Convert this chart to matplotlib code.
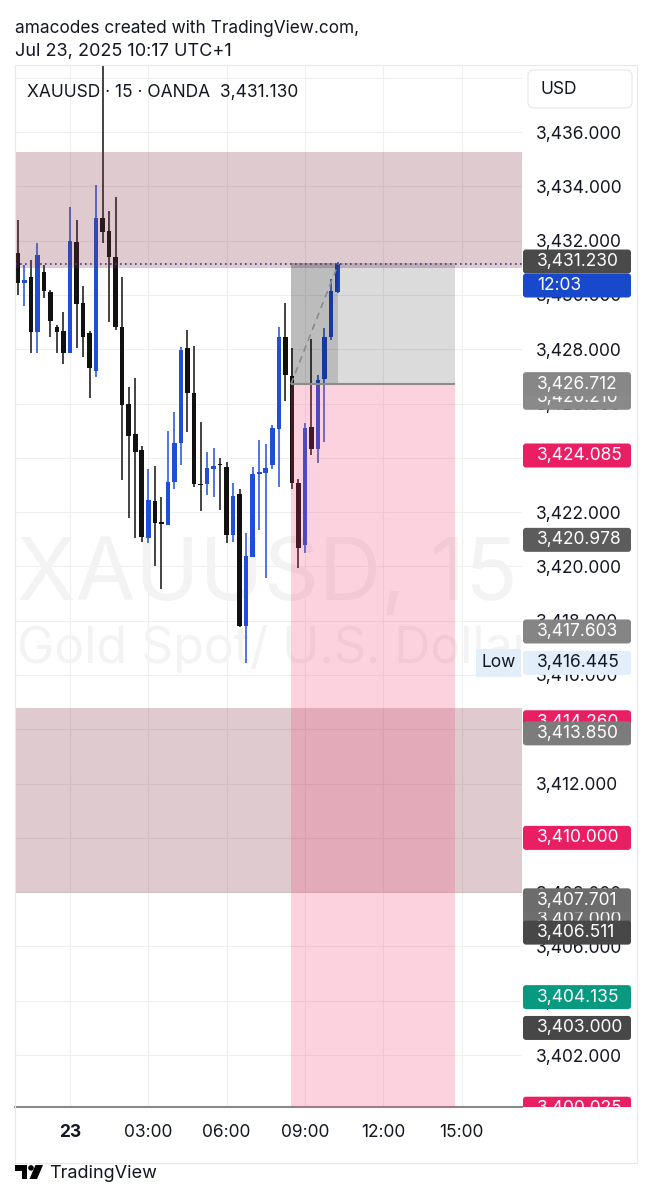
import numpy as np
import matplotlib.pyplot as plt
from matplotlib.patches import Rectangle, FancyBboxPatch, Polygon, Circle

plt.rcParams['font.family'] = ['Inter', 'DejaVu Sans']

W, H = 653, 1200
INK = '#131722'

# 15 minute bars, bar 0 = 00:00 on the 23rd
bar_idx = np.arange(-8, 42)
opens = [3431.54, 3430.45, 3430.66, 3428.63, 3430.84, 3430.10, 3428.80, 3428.67, 3427.86, 3431.95,
         3429.70, 3428.60, 3427.20, 3432.83, 3432.35, 3431.40, 3428.82, 3425.98, 3424.88, 3424.29,
         3421.05, 3422.41, 3421.62, 3421.53, 3423.11, 3424.55, 3428.04, 3426.39, 3423.02, 3423.04,
         3423.60, 3423.76, 3423.66, 3421.16, 3422.67, 3417.80, 3420.35, 3423.42, 3423.44, 3423.74,
         3425.06, 3428.45, 3427.01, 3423.07, 3420.79, 3425.13, 3424.32, 3426.90, 3428.45, 3430.10]
highs = [3432.76, 3431.10, 3431.29, 3431.90, 3431.10, 3430.18, 3428.90, 3429.37, 3433.24, 3432.76,
         3430.33, 3428.67, 3434.05, 3438.90, 3433.09, 3433.60, 3430.66, 3426.60, 3426.94, 3424.43,
         3423.59, 3423.70, 3422.56, 3424.99, 3425.69, 3428.08, 3428.71, 3428.12, 3425.32, 3424.21,
         3424.36, 3423.99, 3423.85, 3423.07, 3422.85, 3421.23, 3423.66, 3424.66, 3424.51, 3425.21,
         3428.82, 3429.70, 3428.04, 3423.22, 3425.28, 3428.38, 3427.05, 3428.78, 3430.59, 3431.21]
lows = [3430.00, 3429.60, 3427.86, 3427.86, 3429.90, 3428.45, 3427.86, 3427.45, 3427.86, 3428.04,
        3427.71, 3426.20, 3426.98, 3431.90, 3429.00, 3428.70, 3423.18, 3421.80, 3421.05, 3420.90,
        3420.86, 3420.00, 3419.17, 3421.53, 3422.85, 3423.74, 3424.95, 3422.92, 3422.04, 3422.63,
        3422.56, 3422.08, 3420.86, 3420.90, 3417.77, 3416.445, 3420.35, 3421.34, 3419.57, 3423.59,
        3422.92, 3426.10, 3422.85, 3419.94, 3420.49, 3424.10, 3423.81, 3424.58, 3428.34, 3430.07]
closes = [3430.44, 3430.55, 3428.63, 3431.47, 3430.14, 3429.04, 3428.63, 3427.86, 3431.99, 3429.67,
          3428.45, 3427.31, 3432.83, 3432.32, 3431.40, 3428.82, 3425.94, 3424.80, 3424.20, 3421.08,
          3422.45, 3421.60, 3421.58, 3423.11, 3424.55, 3427.97, 3426.39, 3423.04, 3422.98, 3423.62,
          3423.68, 3423.72, 3421.16, 3422.59, 3417.80, 3420.38, 3423.40, 3423.46, 3423.62, 3425.10,
          3428.45, 3427.05, 3423.07, 3420.68, 3425.10, 3424.32, 3426.87, 3428.45, 3430.14, 3431.13]

time_ticks = [0, 12, 24, 36, 48, 60]
time_labels = ['23', '03:00', '06:00', '09:00', '12:00', '15:00']
price_ticks = np.arange(3402, 3439, 2)

supply_zone = (3430.99, 3435.26)
demand_zone = (3407.97, 3414.78)
entry_price = 3426.712
stop_price = 3431.17
target_price = 3400.025
pos_start, pos_now, pos_end = 33.85, 41.1, 59.0
last_price = 3431.13

# price scale labels, in drawing order
tag_values = [3431.23, 3426.21, 3426.712, 3424.085, 3420.978, 3417.603, 3416.445,
              3414.26, 3413.85, 3410.0, 3407.0, 3407.701, 3406.511, 3404.135, 3403.0, 3400.025]
tag_colors = ['#4a4a4a', '#8a8a8a', '#878787', '#e91e63', '#5c5c5c', '#858585', '#e3eefb',
              '#e91e63', '#7c7c7c', '#e91e63', '#6e6e6e', '#6c6c6c', '#474747', '#089981',
              '#474747', '#e91e63']
tag_text_colors = ['white'] * 6 + [INK] + ['white'] * 9

fig = plt.figure(figsize=(W / 100, H / 100), dpi=100)
fig.patch.set_facecolor('white')

ylo, yhi = 3400.088, 3438.468
ax = fig.add_axes([15 / W, 1 - 1107 / H, 507 / W, 1042 / H])
ax.patch.set_visible(False)
ax.set_xlim(-8.43, 69.27)
ax.set_ylim(ylo, yhi)

# candles
o, h, l, c = map(np.array, (opens, highs, lows, closes))
cols = np.where(c >= o, '#1f4fd6', '#111111')
ax.vlines(bar_idx, l, h, colors=cols, lw=1.1, zorder=3)
ax.bar(bar_idx, np.maximum(np.abs(c - o), 0.05), bottom=np.minimum(o, c), width=0.7,
       color=cols, zorder=3.5)

# zones and position tool
maroon = (128 / 255, 50 / 255, 65 / 255)
ax.axhspan(*supply_zone, color=maroon, alpha=0.25, lw=0, zorder=4)
ax.axhspan(*demand_zone, color=maroon, alpha=0.25, lw=0, zorder=4)
ax.add_patch(Rectangle((pos_start, target_price), pos_end - pos_start, entry_price - target_price,
                       fc=(242 / 255, 54 / 255, 110 / 255), alpha=0.22, lw=0, zorder=4.2))
ax.add_patch(Rectangle((pos_start, entry_price), pos_end - pos_start, stop_price - entry_price,
                       fc='black', alpha=0.14, lw=0, zorder=4.2))
ax.add_patch(Rectangle((pos_start, entry_price), pos_now - pos_start, stop_price - entry_price,
                       fc='black', alpha=0.14, lw=0, zorder=4.3))
ax.hlines(entry_price, pos_start, pos_end, color='#8c8c8c', lw=1.5, zorder=4.5)
ax.plot([pos_start, pos_now], [entry_price, last_price], color='#8c8c8c', lw=1.2,
        ls=(0, (4, 3)), zorder=4.5)
ax.axhline(last_price, color='#3b3d8a', lw=1.2, ls=(0, (1, 2)), zorder=4.6)

# watermark
ax.text(0.004, 0.4866, 'XAUUSD, 15', transform=ax.transAxes, fontsize=62, color='#f3f3f3',
        va='baseline', ha='left', zorder=1, clip_on=True)
ax.text(0.004, 0.4261, 'Gold Spot/ U.S. Dollar', transform=ax.transAxes, fontsize=36,
        color='#f3f3f3', va='baseline', ha='left', zorder=1, clip_on=True)

ax.text(68.3, tag_values[6], 'Low', ha='right', va='center', fontsize=12.5, color=INK, zorder=6,
        bbox=dict(boxstyle='square,pad=0.3', fc='#e3eefb', ec='none'))

# axes styling
ax.set_xticks(time_ticks)
ax.set_xticklabels(time_labels)
ax.get_xticklabels()[0].set_fontweight('bold')
ax.set_yticks(price_ticks)
ax.yaxis.set_major_formatter(lambda v, p: f'{v:,.3f}')
ax.yaxis.tick_right()
ax.tick_params(axis='x', length=0, pad=12, labelsize=12.5, labelcolor=INK)
ax.tick_params(axis='y', length=0, pad=10, labelsize=12.5, labelcolor=INK)
ax.grid(True, color='#efefef', lw=0.8)
ax.set_axisbelow(True)
for s in ('top', 'left', 'right'):
    ax.spines[s].set_visible(False)
ax.spines['bottom'].set_color('#8a8a8a')
ax.spines['bottom'].set_linewidth(1.5)

# price scale tags, each tag box hides the ones drawn before it
pax = fig.add_axes([522 / W, 1 - 1107 / H, 115 / W, 1042 / H])
pax.set_xlim(0, 115)
pax.set_ylim(ylo, yhi)
pax.axis('off')
px_per_unit = 1042 / (yhi - ylo)
half = 12 / px_per_unit


def tag(v, text, fc, tc, z):
    pax.add_patch(FancyBboxPatch((1, v - half), 108, 2 * half,
                                 boxstyle='round,pad=0,rounding_size=3',
                                 mutation_aspect=1 / px_per_unit, fc=fc, ec='none', zorder=z))
    pax.text(15, v, text, color=tc, fontsize=12.5, va='center', ha='left', zorder=z + 0.5)


for i, (v, fc, tc) in enumerate(zip(tag_values, tag_colors, tag_text_colors)):
    tag(v, f'{v:,.3f}', fc, tc, 2 + 2 * i)
    if i == 0:
        tag(v - 2 * half, '12:03', '#1848cc', 'white', 2.8)

# page furniture in pixel space
ov = fig.add_axes([0, 0, 1, 1], zorder=10)
ov.set_xlim(0, W)
ov.set_ylim(H, 0)
ov.axis('off')
ov.patch.set_visible(False)
ov.add_patch(Rectangle((15, 65), 622, 1098, fc='none', ec='#e8e8e8', lw=0.8))
ov.add_patch(FancyBboxPatch((528, 70), 104, 38, boxstyle='round,pad=0,rounding_size=6',
                            fc='white', ec='#e6e6e6', lw=0.8))
ov.text(541, 89, 'USD', fontsize=12.5, color=INK, va='center')
ov.text(15, 33, 'amacodes created with TradingView.com,', fontsize=12.4, color=INK, va='baseline')
ov.text(15, 56, 'Jul 23, 2025 10:17 UTC+1', fontsize=13, color=INK, va='baseline')
ov.text(27, 97, 'XAUUSD · 15 · OANDA  3,431.130', fontsize=12.5, color=INK, va='baseline')

# TradingView logo
ov.add_patch(Polygon([(15, 1165), (27, 1165), (27, 1179), (21.5, 1179), (21.5, 1170.5), (15, 1170.5)],
                     closed=True, fc='black', ec='none'))
ov.add_patch(Circle((31, 1167.9), 2.8, fc='black', ec='none'))
ov.add_patch(Polygon([(35.5, 1165), (43, 1165), (37, 1179), (29.5, 1179)], closed=True,
                     fc='black', ec='none'))
ov.text(49, 1178, 'TradingView', fontsize=13, color=INK, va='baseline')

fig.savefig('out.png', dpi=100, facecolor='white')
